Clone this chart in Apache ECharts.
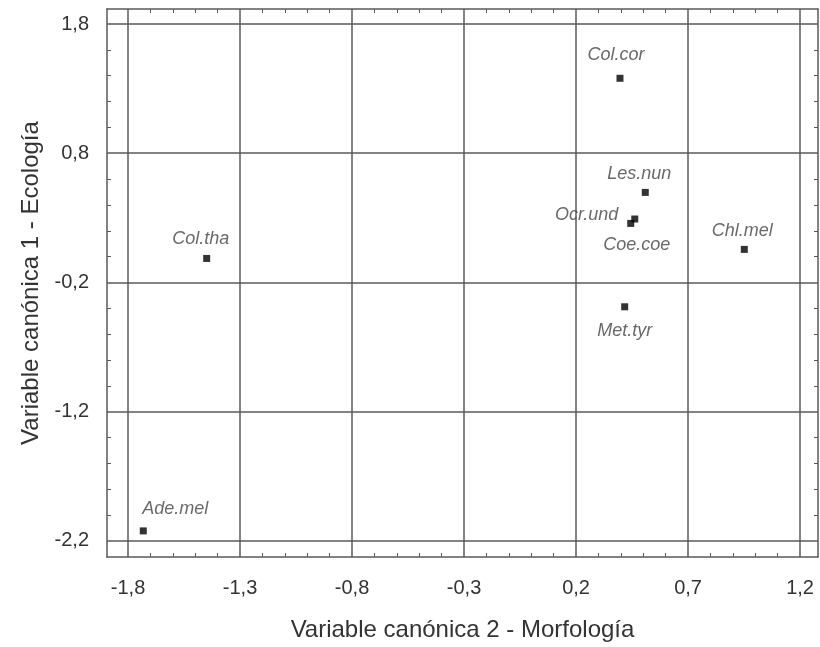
<!DOCTYPE html>
<html>
<head>
<meta charset="utf-8">
<script src="https://cdn.jsdelivr.net/npm/echarts@6/dist/echarts.min.js"></script>
<style>
html,body{margin:0;padding:0;background:#fff;}
#chart{width:820px;height:647px;}
</style>
</head>
<body>
<div id="chart"></div>
<script>
// ---- data ----
const species = ['Col.cor', 'Les.nun', 'Ocr.und', 'Coe.coe', 'Chl.mel', 'Met.tyr', 'Col.tha', 'Ade.mel'];
const morfologia = [0.396, 0.509, 0.462, 0.444, 0.951, 0.417, -1.449, -1.732];
const ecologia = [1.38, 0.497, 0.291, 0.257, 0.056, -0.388, -0.014, -2.122];
const xTicks = [-1.8, -1.3, -0.8, -0.3, 0.2, 0.7, 1.2];
const yTicks = [1.8, 0.8, -0.2, -1.2, -2.2];
const xMinor = [-1.7,-1.6,-1.5,-1.4,-1.2,-1.1,-1.0,-0.9,-0.7,-0.6,-0.5,-0.4,-0.2,-0.1,0.0,0.1,0.3,0.4,0.5,0.6,0.8,0.9,1.0,1.1];
const yMinor = [1.6,1.4,1.2,1.0,0.6,0.4,0.2,0.0,-0.4,-0.6,-0.8,-1.0,-1.4,-1.6,-1.8,-2.0];
const xName = 'Variable canónica 2 - Morfología';
const yName = 'Variable canónica 1 - Ecología';

// ---- label placement (style only) ----
const labelPlace = {
  'Col.cor': {position: 'top', offset: [-4, -5]},
  'Les.nun': {position: 'top', offset: [-6, 0]},
  'Ocr.und': {position: 'left', offset: [-7, -4]},
  'Coe.coe': {position: 'bottom', offset: [6, 3]},
  'Chl.mel': {position: 'top', offset: [-2, 0]},
  'Met.tyr': {position: 'bottom', offset: [0, 6]},
  'Col.tha': {position: 'top', offset: [-6, -1]},
  'Ade.mel': {position: 'top', offset: [32, -3]}
};

const xMin = -1.894, xMax = 1.28, yMin = -2.324, yMax = 1.916;
const fmt = v => String(v).replace('.', ',');
const lineCol = '#5a5a5a';
const fontFam = '"Liberation Sans", Arial, sans-serif';

const chart = echarts.init(document.getElementById('chart'), null, {renderer: 'canvas'});

const pts = species.map((s, i) => ({
  name: s,
  value: [morfologia[i], ecologia[i]],
  label: Object.assign({show: true, formatter: s}, labelPlace[s])
}));

chart.setOption({
  animation: false,
  backgroundColor: '#fff',
  grid: {left: 107, right: 2, top: 9, bottom: 90, containLabel: false},
  xAxis: [
    {
      type: 'value', min: xMin, max: xMax, position: 'bottom',
      name: xName, nameLocation: 'middle', nameGap: 61,
      nameTextStyle: {fontFamily: fontFam, fontSize: 24, color: '#333'},
      axisLine: {show: true, onZero: false, lineStyle: {color: lineCol, width: 1.5}},
      axisTick: {show: false, customValues: xTicks},
      axisLabel: {customValues: xTicks, formatter: fmt, margin: 21, fontFamily: fontFam, fontSize: 20, color: '#333', showMinLabel: true, showMaxLabel: true},
      splitLine: {show: true, lineStyle: {color: lineCol, width: 1.5}}
    },
    {
      type: 'value', min: xMin, max: xMax, position: 'bottom',
      axisLine: {show: false, onZero: false},
      axisTick: {show: true, inside: true, length: 4, customValues: xMinor, lineStyle: {color: lineCol, width: 1}},
      axisLabel: {show: false},
      splitLine: {show: false}
    },
    {
      type: 'value', min: xMin, max: xMax, position: 'top',
      axisLine: {show: true, onZero: false, lineStyle: {color: lineCol, width: 1.5}},
      axisTick: {show: true, inside: true, length: 4, customValues: xMinor, lineStyle: {color: lineCol, width: 1}},
      axisLabel: {show: false},
      splitLine: {show: false}
    }
  ],
  yAxis: [
    {
      type: 'value', min: yMin, max: yMax, position: 'left',
      name: yName, nameLocation: 'middle', nameGap: 62, nameRotate: 90,
      nameTextStyle: {fontFamily: fontFam, fontSize: 24, color: '#333'},
      axisLine: {show: true, onZero: false, lineStyle: {color: lineCol, width: 1.5}},
      axisTick: {show: false, customValues: yTicks},
      axisLabel: {customValues: yTicks, formatter: fmt, margin: 18, fontFamily: fontFam, fontSize: 20, color: '#333'},
      splitLine: {show: true, lineStyle: {color: lineCol, width: 1.5}}
    },
    {
      type: 'value', min: yMin, max: yMax, position: 'left',
      axisLine: {show: false, onZero: false},
      axisTick: {show: true, inside: true, length: 4, customValues: yMinor, lineStyle: {color: lineCol, width: 1}},
      axisLabel: {show: false},
      splitLine: {show: false}
    },
    {
      type: 'value', min: yMin, max: yMax, position: 'right',
      axisLine: {show: true, onZero: false, lineStyle: {color: lineCol, width: 1.5}},
      axisTick: {show: true, inside: true, length: 4, customValues: yMinor, lineStyle: {color: lineCol, width: 1}},
      axisLabel: {show: false},
      splitLine: {show: false}
    }
  ],
  series: [{
    type: 'scatter',
    xAxisIndex: 0, yAxisIndex: 0,
    symbol: 'rect', symbolSize: 7,
    itemStyle: {color: '#000'},
    label: {fontFamily: fontFam, fontSize: 18, fontStyle: 'italic', color: '#444', distance: 6},
    data: pts,
    z: 5
  }]
});
</script>
</body>
</html>
